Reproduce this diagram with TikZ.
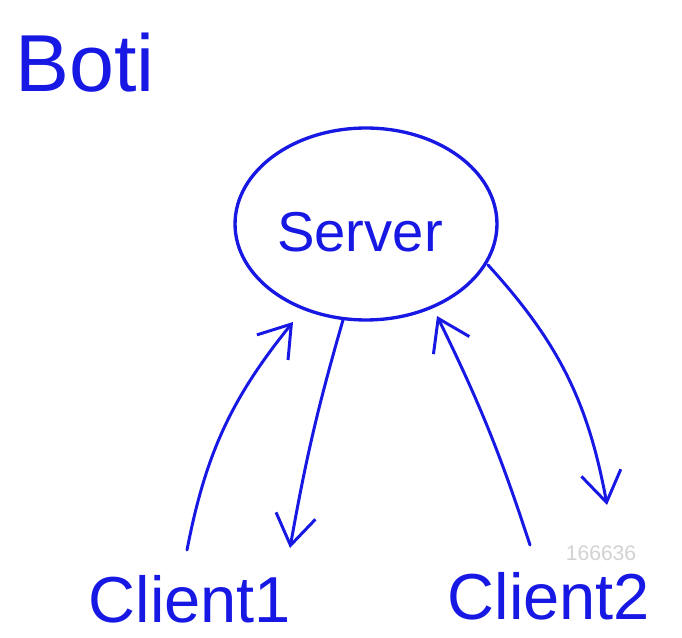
\documentclass[tikz,border=0pt]{standalone}
\usepackage{fontspec}
\setmainfont{Liberation Sans}
\usetikzlibrary{arrows.meta,calc,shapes.geometric}
\definecolor{ink}{RGB}{24,24,228}

\begin{document}
\begin{tikzpicture}[
    x=0.02cm,
    y=-0.02cm,
    >={Straight Barb[length=6mm,width=8mm,line width=1.7pt]},
    hand/.style={text=ink, inner sep=0pt},
    serverbox/.style={draw=ink, ellipse, line width=1.9pt, minimum width=5.24cm, minimum height=3.84cm},
    line/.style={->, draw=ink, line width=1.7pt, line cap=round}
]
\useasboundingbox (0,0) rectangle (682,638);
\node[hand, font=\fontsize{46}{52}\selectfont] (boti) at (85,63) {Boti};
\node[serverbox] (server) at (366,224) {};
\node[hand, font=\fontsize{32}{38}\selectfont] (servertext) at (360,232) {Server};
\node[hand, font=\fontsize{37}{44}\selectfont] (client1) at (190,599) {Client1};
\node[hand, font=\fontsize{37}{44}\selectfont] (client2) at (549,596) {Client2};
\node[text=gray!35, font=\fontsize{12}{14}\selectfont, inner sep=0pt] (mark) at (601,553) {166636};

\draw[line] ($(client1)+(-3,-49)$) to[bend left=14] ($(server)+(-73,98)$);
\draw[line] ($(server)+(-23,96)$) to[bend right=3] ($(client1)+(100,-51)$);
\draw[line] ($(client2)+(-19,-51)$) to[bend right=4] ($(server)+(71,92)$);
\draw[line] ($(server)+(122,41)$) to[bend left=16] ($(client2)+(58,-91)$);
\end{tikzpicture}
\end{document}
